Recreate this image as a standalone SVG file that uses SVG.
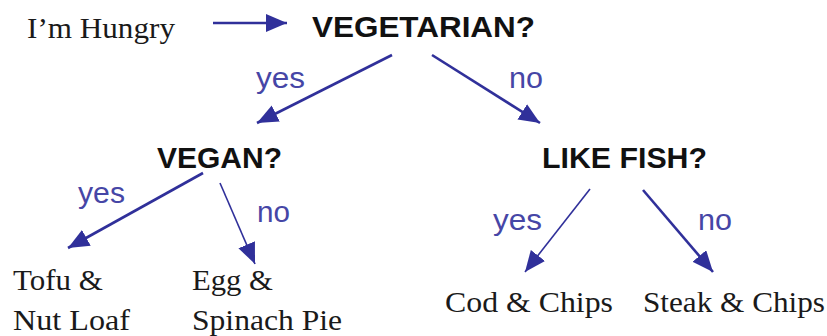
<svg xmlns="http://www.w3.org/2000/svg" width="827" height="336" viewBox="0 0 827 336">
<style>
.q{font-family:"Liberation Sans",Arial,sans-serif;font-weight:bold;font-size:30px;fill:#111}
.f{font-family:"Liberation Serif","Times New Roman",serif;font-size:29px;fill:#1a1a1a}
.l{font-family:"Liberation Sans",Arial,sans-serif;font-size:29px;fill:#4646a6}
.c{stroke:#30309a;stroke-width:2.6;fill:none;marker-end:url(#ah)}
.t{stroke-width:1.6}
</style>
<defs>
<marker id="ah" markerUnits="userSpaceOnUse" markerWidth="24" markerHeight="20" refX="21" refY="9" orient="auto" viewBox="0 0 24 20">
<path d="M0,0 L21,9 L0,18 z" fill="#30309a"/>
</marker>
</defs>
<rect width="827" height="336" fill="#fff"/>
<g id="connectors">
<line class="c" x1="213" y1="23" x2="287" y2="23"/>
<line class="c" x1="392" y1="55" x2="257" y2="123"/>
<line class="c" x1="432" y1="55" x2="540" y2="123"/>
<line class="c" x1="203" y1="173" x2="68" y2="248"/>
<line class="c t" x1="220" y1="183" x2="255" y2="264"/>
<line class="c t" x1="590" y1="189" x2="525" y2="272"/>
<line class="c" x1="643" y1="190" x2="713" y2="272"/>
</g>
<g id="labels">
<text class="l" x="256" y="88" textLength="49" lengthAdjust="spacingAndGlyphs">yes</text>
<text class="l" x="509" y="88" textLength="34" lengthAdjust="spacingAndGlyphs">no</text>
<text class="l" x="78" y="203" textLength="47" lengthAdjust="spacingAndGlyphs">yes</text>
<text class="l" x="257" y="222" textLength="33" lengthAdjust="spacingAndGlyphs">no</text>
<text class="l" x="493" y="230" textLength="49" lengthAdjust="spacingAndGlyphs">yes</text>
<text class="l" x="698" y="230" textLength="34" lengthAdjust="spacingAndGlyphs">no</text>
</g>
<g id="start"><text class="f" x="27" y="38" textLength="148" lengthAdjust="spacingAndGlyphs">I’m Hungry</text></g>
<g id="vegetarian"><text class="q" x="312" y="37" textLength="223" lengthAdjust="spacingAndGlyphs">VEGETARIAN?</text></g>
<g id="vegan"><text class="q" x="157" y="168" textLength="125" lengthAdjust="spacingAndGlyphs">VEGAN?</text></g>
<g id="likefish"><text class="q" x="542" y="168" textLength="165" lengthAdjust="spacingAndGlyphs">LIKE FISH?</text></g>
<g id="tofu">
<text class="f" x="13" y="290" textLength="90" lengthAdjust="spacingAndGlyphs">Tofu &amp;</text>
<text class="f" x="13" y="330" textLength="117" lengthAdjust="spacingAndGlyphs">Nut Loaf</text>
</g>
<g id="egg">
<text class="f" x="192" y="290" textLength="81" lengthAdjust="spacingAndGlyphs">Egg &amp;</text>
<text class="f" x="192" y="330" textLength="150" lengthAdjust="spacingAndGlyphs">Spinach Pie</text>
</g>
<g id="cod"><text class="f" x="445" y="312" textLength="168" lengthAdjust="spacingAndGlyphs">Cod &amp; Chips</text></g>
<g id="steak"><text class="f" x="643" y="312" textLength="182" lengthAdjust="spacingAndGlyphs">Steak &amp; Chips</text></g>
</svg>
